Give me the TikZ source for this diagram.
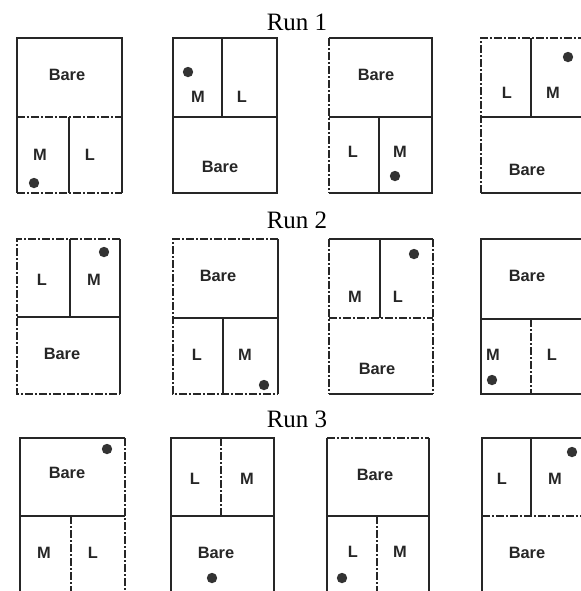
\documentclass[tikz,border=0pt]{standalone}
\usepackage{fontspec}
\setmainfont{Liberation Serif}
\setsansfont{Liberation Sans}
\usetikzlibrary{positioning}

\begin{document}
\begin{tikzpicture}[
    x=0.5pt, y=-0.5pt,
    frame/.style={draw=black!85, line width=0.8pt},
    broken/.style={frame, dash pattern=on 4pt off 1pt on 1pt off 1pt},
    runtitle/.style={font=\fontsize{12.5}{14}\selectfont, anchor=base},
    plotlabel/.style={font=\sffamily\bfseries\fontsize{8.2}{10}\selectfont, text=black!85},
    spot/.style={circle, fill=black!80, inner sep=0pt, minimum size=5.2pt}
]
\clip (0,0) rectangle (581,591);

% Titles
\node[runtitle] (run1) at (297,30) {Run 1};
\node[runtitle] (run2) at (297,228) {Run 2};
\node[runtitle] (run3) at (297,427) {Run 3};

% Run 1
\draw[frame] (17,193) -- (17,38) -- (122,38) -- (122,193);
\draw[broken] (17,193) -- (122,193);
\draw[broken] (17,117) -- (122,117);
\draw[frame] (69,117) -- (69,193);
\node[plotlabel] (bare11) at (67,75) {Bare};
\node[plotlabel] (m11) at (40,155) {M};
\node[plotlabel] (l11) at (90,155) {L};
\node[spot] (dot11) at (34,183) {};

\draw[frame] (173,38) rectangle (277,193);
\draw[frame] (173,117) -- (277,117);
\draw[frame] (222,38) -- (222,117);
\node[plotlabel] (m12) at (198,97) {M};
\node[plotlabel] (l12) at (242,97) {L};
\node[plotlabel] (bare12) at (220,167) {Bare};
\node[spot] (dot12) at (188,72) {};

\draw[frame] (329,38) -- (432,38) -- (432,193) -- (329,193);
\draw[broken] (329,38) -- (329,193);
\draw[frame] (329,117) -- (432,117);
\draw[frame] (379,117) -- (379,193);
\node[plotlabel] (bare13) at (376,75) {Bare};
\node[plotlabel] (l13) at (353,152) {L};
\node[plotlabel] (m13) at (400,152) {M};
\node[spot] (dot13) at (395,176) {};

\draw[broken] (481,193) -- (481,38) -- (584,38);
\draw[frame] (481,193) -- (584,193);
\draw[frame] (481,117) -- (584,117);
\draw[frame] (531,38) -- (531,117);
\node[plotlabel] (l14) at (507,93) {L};
\node[plotlabel] (m14) at (553,93) {M};
\node[plotlabel] (bare14) at (527,170) {Bare};
\node[spot] (dot14) at (568,57) {};

% Run 2
\draw[broken] (120,239) -- (17,239) -- (17,394) -- (120,394);
\draw[frame] (120,239) -- (120,394);
\draw[frame] (17,317) -- (120,317);
\draw[frame] (70,239) -- (70,317);
\node[plotlabel] (l21) at (42,280) {L};
\node[plotlabel] (m21) at (94,280) {M};
\node[plotlabel] (bare21) at (62,354) {Bare};
\node[spot] (dot21) at (104,252) {};

\draw[broken] (278,239) -- (173,239) -- (173,394) -- (278,394);
\draw[frame] (278,239) -- (278,394);
\draw[frame] (173,318) -- (278,318);
\draw[frame] (223,318) -- (223,394);
\node[plotlabel] (bare22) at (218,276) {Bare};
\node[plotlabel] (l22) at (197,355) {L};
\node[plotlabel] (m22) at (245,355) {M};
\node[spot] (dot22) at (264,385) {};

\draw[frame] (329,239) -- (433,239);
\draw[frame] (329,394) -- (433,394);
\draw[broken] (329,239) -- (329,394);
\draw[broken] (433,239) -- (433,394);
\draw[broken] (329,318) -- (433,318);
\draw[frame] (380,239) -- (380,318);
\node[plotlabel] (m23) at (355,297) {M};
\node[plotlabel] (l23) at (398,297) {L};
\node[plotlabel] (bare23) at (377,369) {Bare};
\node[spot] (dot23) at (414,254) {};

\draw[frame] (584,239) -- (481,239) -- (481,394) -- (584,394);
\draw[frame] (481,319) -- (584,319);
\draw[broken] (531,319) -- (531,394);
\node[plotlabel] (bare24) at (527,276) {Bare};
\node[plotlabel] (m24) at (493,355) {M};
\node[plotlabel] (l24) at (552,355) {L};
\node[spot] (dot24) at (492,380) {};

% Run 3
\draw[frame] (20,593) -- (20,438) -- (125,438);
\draw[broken] (125,438) -- (125,593);
\draw[frame] (20,516) -- (125,516);
\draw[broken] (71,516) -- (71,593);
\node[plotlabel] (bare31) at (67,473) {Bare};
\node[plotlabel] (m31) at (44,553) {M};
\node[plotlabel] (l31) at (93,553) {L};
\node[spot] (dot31) at (107,449) {};

\draw[frame] (171,593) -- (171,438) -- (274,438) -- (274,593);
\draw[frame] (171,516) -- (274,516);
\draw[broken] (221,438) -- (221,516);
\node[plotlabel] (l32) at (195,479) {L};
\node[plotlabel] (m32) at (247,479) {M};
\node[plotlabel] (bare32) at (216,553) {Bare};
\node[spot] (dot32) at (212,578) {};

\draw[broken] (327,438) -- (429,438);
\draw[frame] (327,438) -- (327,593);
\draw[frame] (429,438) -- (429,593);
\draw[frame] (327,516) -- (429,516);
\draw[broken] (377,516) -- (377,593);
\node[plotlabel] (bare33) at (375,475) {Bare};
\node[plotlabel] (l33) at (353,552) {L};
\node[plotlabel] (m33) at (400,552) {M};
\node[spot] (dot33) at (342,578) {};

\draw[frame] (482,593) -- (482,438) -- (584,438);
\draw[broken] (482,516) -- (584,516);
\draw[frame] (531,438) -- (531,516);
\node[plotlabel] (l34) at (502,479) {L};
\node[plotlabel] (m34) at (555,479) {M};
\node[plotlabel] (bare34) at (527,553) {Bare};
\node[spot] (dot34) at (572,452) {};

\end{tikzpicture}
\end{document}
